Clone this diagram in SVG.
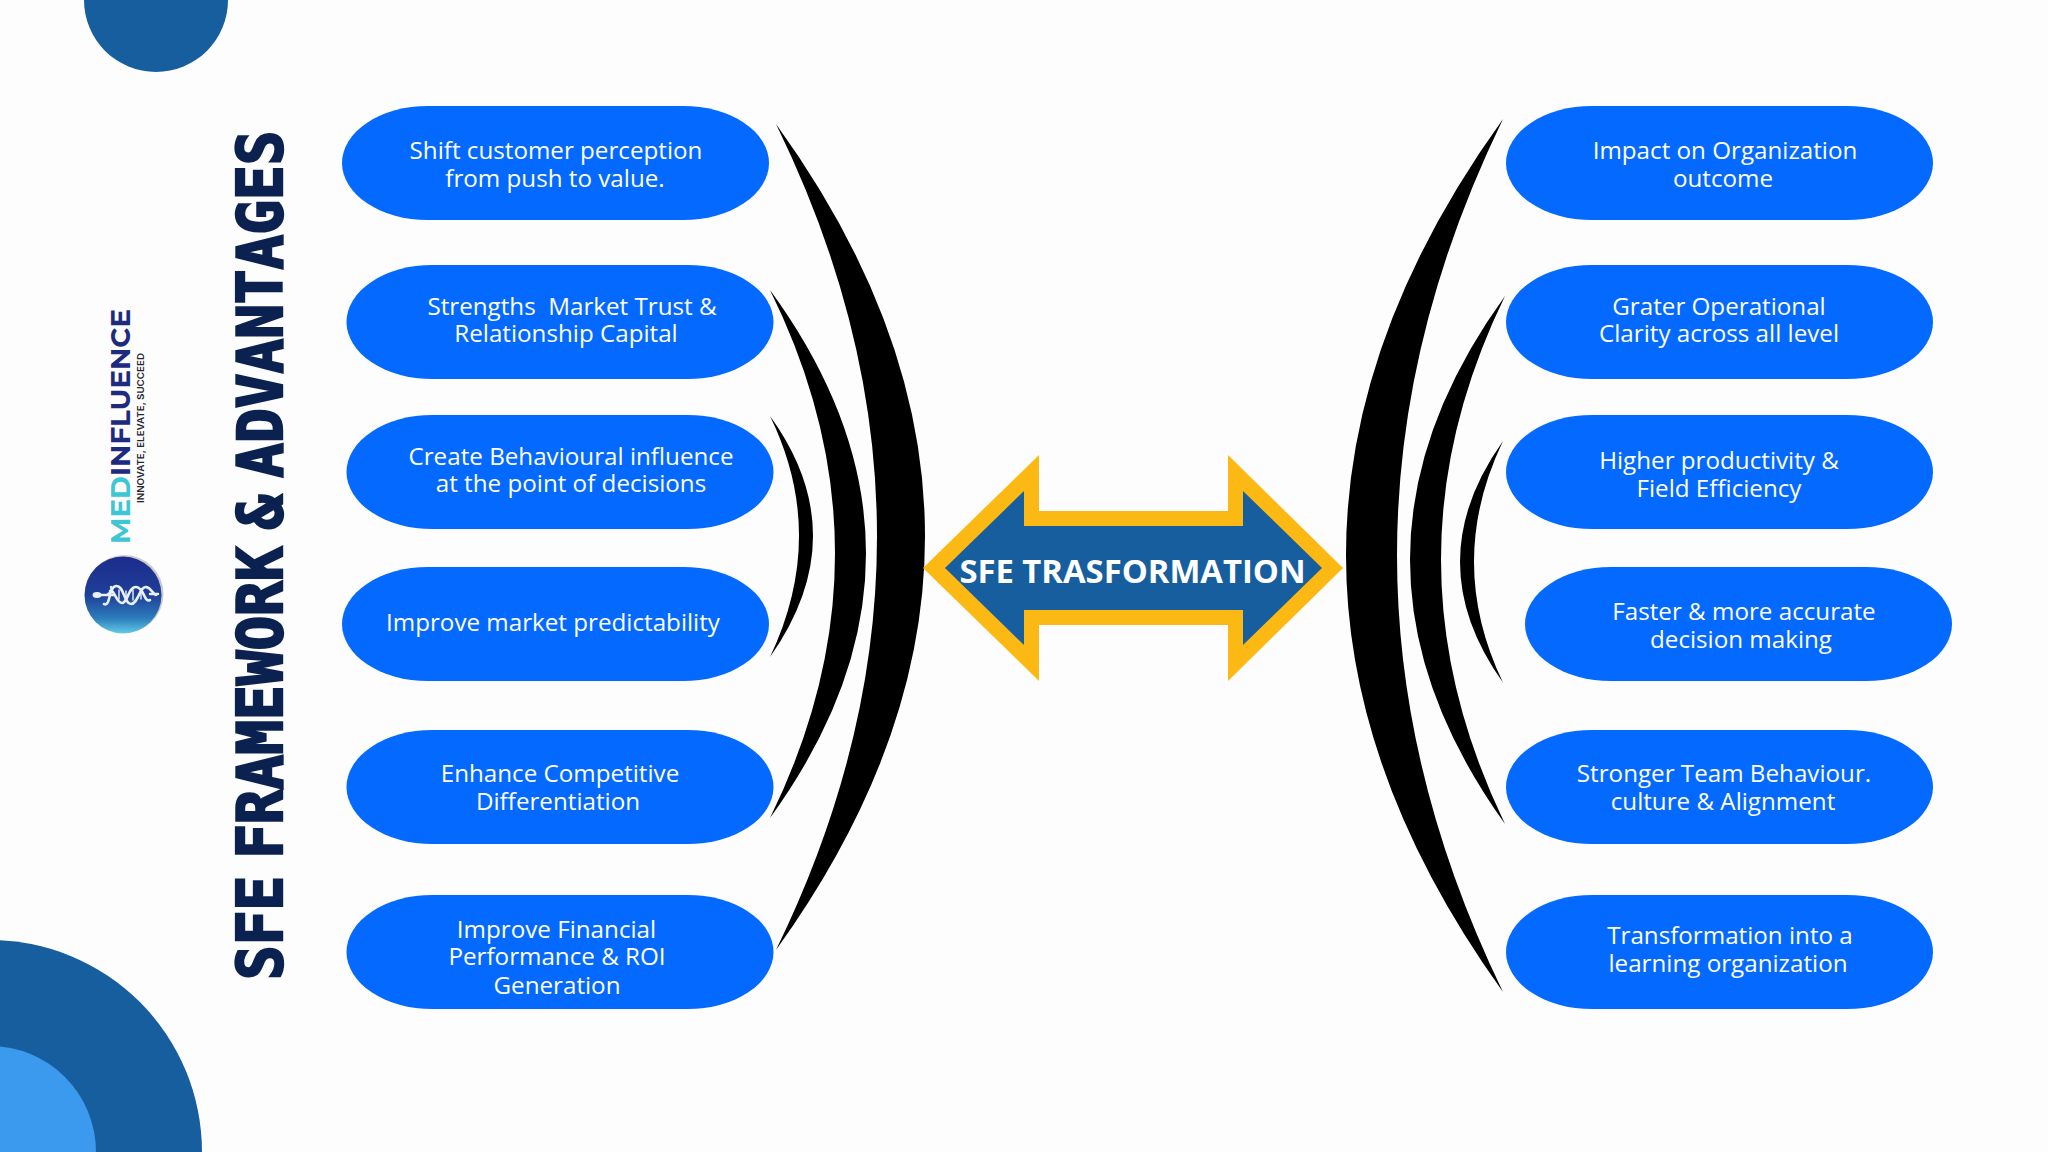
<svg xmlns="http://www.w3.org/2000/svg" width="2048" height="1152" viewBox="0 0 2048 1152">
<style>
.pill{fill:#0469ff}
.t{font-family:"Open Sans","Noto Sans",sans-serif;font-size:24.2px;fill:#fff;text-anchor:middle}
.c{fill:#000}
.dk{fill:#175e9f}
</style>
<defs>
<linearGradient id="lg" x1="0" y1="0" x2="0" y2="1">
<stop offset="0" stop-color="#1c2c8c"/><stop offset="0.5" stop-color="#1f3f98"/><stop offset="0.8" stop-color="#2c7cbc"/><stop offset="1" stop-color="#62cbe6"/>
</linearGradient>
<rect id="p" width="427" height="114" rx="86" ry="57"/>
</defs>
<rect width="2048" height="1152" fill="#fdfdfd"/>
<g id="decor">
<circle class="dk" cx="156" cy="0" r="72"/>
<circle class="dk" cx="-10" cy="1152" r="212"/>
<circle cx="-10" cy="1152" r="106" fill="#3b99ee"/>
</g>
<g id="logo">
<circle cx="124.5" cy="594" r="39" fill="#9a9a9a" opacity="0.5"/>
<circle cx="123" cy="595" r="38.5" fill="url(#lg)"/>
<g fill="none" stroke="#e8f1fb" stroke-linecap="round">
<ellipse cx="97" cy="595" rx="4.5" ry="3" fill="#e8f1fb" stroke="none"/>
<path d="M97 595H114M150 594H158" stroke-width="2.4"/>
<path d="M111 587c2 3-1 6-3 7" stroke-width="2.4"/>
<path d="M104 604C111 607 108 587 116 586S124 604 131 604S140 586 146 587S152 594 156 595" stroke-width="2.6"/>
<path d="M110 591C114 588 116 603 122 603S128 587 136 587S144 603 150 600" stroke-width="2.6"/>
<path d="M119 590v9M126 591v9M133 590v10M141 590v9" stroke-width="1.4"/>
</g>
<text transform="translate(130,544) rotate(-90)" font-family="Montserrat,Inter,'Open Sans',sans-serif" font-weight="700" font-size="27px" textLength="235" lengthAdjust="spacingAndGlyphs"><tspan fill="#3fc6d4">MED</tspan><tspan fill="#1d2a7e">INFLUENCE</tspan></text>
<text transform="translate(144,503) rotate(-90)" font-family="Inter,'Liberation Sans',sans-serif" font-weight="600" font-size="9.5px" fill="#26262e" textLength="150" lengthAdjust="spacingAndGlyphs">INNOVATE, ELEVATE, SUCCEED</text>
</g>
<text id="title" transform="translate(281.5,980) rotate(-90) scale(0.93,1)" font-family="'DejaVu Sans Mono',monospace" font-weight="700" font-size="62px" word-spacing="-19px" fill="#0b2150" stroke="#0b2150" stroke-width="2.4">SFE FRAMEWORK &amp; ADVANTAGES</text>
<g id="connectors">
<path class="c" d="M776 124Q1074 536 776 950Q978 536 776 124Z"/>
<path class="c" d="M770 290Q962 553 770 818Q900 553 770 290Z"/>
<path class="c" d="M770 416Q856 535 770 657Q828 535 770 416Z"/>
<path class="c" d="M1503 119Q1189 555 1503 992Q1291 555 1503 119Z"/>
<path class="c" d="M1505 296Q1315 559 1505 824Q1377 559 1505 296Z"/>
<path class="c" d="M1503 441Q1417 562 1503 682.5Q1445 562 1503 441Z"/>
</g>
<g id="center-arrow">
<path fill="#fdb913" d="M923 568L1039 455V511H1228V455L1343 568L1228 681V625H1039V681Z"/>
<path fill="#175e9f" d="M945 568L1024 491V526H1243V491L1322 568L1243 645V610H1024V645Z"/>
<text x="1132.5" y="583" font-family="'Open Sans',sans-serif" font-weight="700" font-size="32.8px" fill="#fff" text-anchor="middle">SFE TRASFORMATION</text>
</g>
<g id="L1"><use href="#p" class="pill" x="342" y="106"/><text class="t" x="556" y="158.5">Shift customer perception</text><text class="t" x="555" y="186.5">from push to value.</text></g>
<g id="L2"><use href="#p" class="pill" x="346.5" y="265"/><text class="t" x="572" y="314.5" xml:space="preserve">Strengths  Market Trust &amp;</text><text class="t" x="566" y="341.5">Relationship Capital</text></g>
<g id="L3"><use href="#p" class="pill" x="346.5" y="415"/><text class="t" x="571" y="465">Create Behavioural influence</text><text class="t" x="571" y="492">at the point of decisions</text></g>
<g id="L4"><use href="#p" class="pill" x="342" y="567"/><text class="t" x="553" y="630.5">Improve market predictability</text></g>
<g id="L5"><use href="#p" class="pill" x="346.5" y="730"/><text class="t" x="560" y="782">Enhance Competitive</text><text class="t" x="558" y="810">Differentiation</text></g>
<g id="L6"><use href="#p" class="pill" x="346.5" y="895"/><text class="t" x="556.5" y="938">Improve Financial</text><text class="t" x="557" y="965">Performance &amp; ROI</text><text class="t" x="557" y="993.5">Generation</text></g>
<g id="R1"><use href="#p" class="pill" x="1506" y="106"/><text class="t" x="1725" y="158.5">Impact on Organization</text><text class="t" x="1723" y="186.5">outcome</text></g>
<g id="R2"><use href="#p" class="pill" x="1506" y="265"/><text class="t" x="1719" y="314.5">Grater Operational</text><text class="t" x="1719" y="341.5">Clarity across all level</text></g>
<g id="R3"><use href="#p" class="pill" x="1506" y="415"/><text class="t" x="1719" y="469">Higher productivity &amp;</text><text class="t" x="1719" y="496.5">Field Efficiency</text></g>
<g id="R4"><use href="#p" class="pill" x="1525" y="567"/><text class="t" x="1744" y="620">Faster &amp; more accurate</text><text class="t" x="1741" y="648">decision making</text></g>
<g id="R5"><use href="#p" class="pill" x="1506" y="730"/><text class="t" x="1724" y="782">Stronger Team Behaviour.</text><text class="t" x="1723" y="810">culture &amp; Alignment</text></g>
<g id="R6"><use href="#p" class="pill" x="1506" y="895"/><text class="t" x="1730" y="944">Transformation into a</text><text class="t" x="1728" y="972">learning organization</text></g>
</svg>
